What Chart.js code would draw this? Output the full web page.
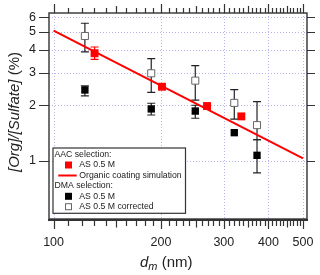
<!DOCTYPE html>
<html><head><meta charset="utf-8">
<script src="https://cdn.jsdelivr.net/npm/chart.js@4/dist/chart.umd.min.js"></script>
<style>html,body{margin:0;padding:0;background:#fff}#wrap{width:320px;height:275px;position:relative}</style>
</head><body><div id="wrap"><canvas id="c"></canvas></div>
<script>
// ---- data ----
const xTicks = [100, 200, 300, 400, 500];
const yTicks = [1, 2, 3, 4, 5, 6];
const aacD  = [130.3, 201.3, 269.2, 335.8];
const aacR  = [3.83, 2.52, 1.98, 1.74];
const aacLo = [3.55, null, null, null];
const aacHi = [4.14, null, null, null];
const simD  = [100, 500];
const simR  = [5.08, 1.03];
const dmaD  = [122.4, 187.8, 249.5, 320.9, 371.6];
const dmaR  = [2.42, 1.91, 1.86, 1.42, 1.07];
const dmaLo = [2.25, 1.77, 1.70, null, 0.86];
const dmaHi = [2.55, 2.05, 2.00, null, 1.30];
const corR  = [4.75, 2.98, 2.72, 2.06, 1.56];
const corLo = [3.90, 2.35, 2.13, 1.68, 1.30];
const corHi = [5.57, 3.58, 3.28, 2.43, 2.09];

const pts = (xs, ys) => xs.map((x, i) => ({x: x, y: ys[i]}));
const FONT = '"Liberation Sans", Arial, sans-serif';
const INK = '#222';

const errBars = [
  {xs: dmaD, lo: corLo, hi: corHi, color: '#222'},
  {xs: dmaD, lo: dmaLo, hi: dmaHi, color: '#222'},
  {xs: aacD, lo: aacLo, hi: aacHi, color: '#f00'}
];

const deco = {
  id: 'deco',
  beforeDatasetsDraw(chart) {
    const {ctx, chartArea: a, scales: {x, y}} = chart;
    ctx.save();
    // dotted grid
    ctx.strokeStyle = '#b4b4f0';
    ctx.lineWidth = 1;
    ctx.setLineDash([1, 2]);
    xTicks.forEach(v => {
      const px = Math.round(x.getPixelForValue(v)) + 0.5;
      ctx.beginPath(); ctx.moveTo(px, a.top); ctx.lineTo(px, a.bottom); ctx.stroke();
    });
    yTicks.forEach(v => {
      const py = Math.round(y.getPixelForValue(v)) + 0.5;
      ctx.beginPath(); ctx.moveTo(a.left, py); ctx.lineTo(a.right, py); ctx.stroke();
    });
    ctx.setLineDash([]);
    // error bars
    errBars.forEach(e => {
      ctx.strokeStyle = e.color;
      ctx.lineWidth = 1.2;
      e.xs.forEach((xv, i) => {
        if (e.lo[i] == null) return;
        const px = x.getPixelForValue(xv);
        const p1 = y.getPixelForValue(e.hi[i]);
        const p2 = y.getPixelForValue(e.lo[i]);
        ctx.beginPath();
        ctx.moveTo(px, p1); ctx.lineTo(px, p2);
        ctx.moveTo(px - 4, p1); ctx.lineTo(px + 4, p1);
        ctx.moveTo(px - 4, p2); ctx.lineTo(px + 4, p2);
        ctx.stroke();
      });
    });
    ctx.restore();
  },
  afterDraw(chart) {
    const {ctx, chartArea: a, scales: {x, y}} = chart;
    ctx.save();
    // frame
    ctx.strokeStyle = '#333';
    ctx.lineWidth = 1.4;
    ctx.strokeRect(a.left, a.top, a.right - a.left, a.bottom - a.top);
    ctx.lineWidth = 2;
    ctx.beginPath(); ctx.moveTo(a.left - 1, a.bottom + 1); ctx.lineTo(a.right + 1, a.bottom + 1); ctx.stroke();
    // x ticks (top and bottom)
    ctx.lineWidth = 1.2;
    const minor = [];
    for (let d = 100; d <= 500; d += 10) minor.push(d);
    minor.forEach(v => {
      const px = Math.round(x.getPixelForValue(v)) + 0.5;
      const major = xTicks.includes(v);
      const mid = (v === 150 || v === 250 || v === 350 || v === 450);
      const L = major ? 9 : (mid ? 7 : 5);
      ctx.beginPath();
      ctx.moveTo(px, a.top); ctx.lineTo(px, a.top - L);
      ctx.moveTo(px, a.bottom + 2); ctx.lineTo(px, a.bottom + 2 + (major ? 8 : (mid ? 6.5 : 5)));
      ctx.stroke();
    });
    // y ticks (left and right)
    yTicks.forEach(v => {
      const py = Math.round(y.getPixelForValue(v)) + 0.5;
      ctx.beginPath();
      ctx.moveTo(a.left, py); ctx.lineTo(a.left - 10, py);
      ctx.moveTo(a.right, py); ctx.lineTo(a.right + 8, py);
      ctx.stroke();
    });
    // tick labels
    ctx.fillStyle = INK;
    ctx.font = '12.5px ' + FONT;
    ctx.textAlign = 'right'; ctx.textBaseline = 'middle';
    yTicks.forEach(v => ctx.fillText(String(v), 36, y.getPixelForValue(v)));
    ctx.textAlign = 'center';
    xTicks.forEach(v => ctx.fillText(String(v), x.getPixelForValue(v), 243));
    // y title
    ctx.save();
    ctx.translate(15, 112);
    ctx.rotate(-Math.PI / 2);
    const t1 = '[Org]/[Sulfate]', t2 = ' (%)';
    const fi = 'italic 15px ' + FONT, fn = '15px ' + FONT;
    ctx.font = fi; const w1 = ctx.measureText(t1).width;
    ctx.font = fn; const w2 = ctx.measureText(t2).width;
    ctx.textAlign = 'left';
    let sx = -(w1 + w2) / 2;
    ctx.font = fi; ctx.fillText(t1, sx, 0);
    ctx.font = fn; ctx.fillText(t2, sx + w1, 0);
    ctx.restore();
    // x title
    ctx.textAlign = 'left'; ctx.textBaseline = 'alphabetic';
    let tx = 140;
    ctx.font = 'italic 15px ' + FONT; ctx.fillText('d', tx, 267); tx += ctx.measureText('d').width;
    ctx.font = 'italic 11px ' + FONT; ctx.fillText('m', tx, 270); tx += ctx.measureText('m').width;
    ctx.font = '15px ' + FONT; ctx.fillText(' (nm)', tx, 267);
    // legend
    const lx = 53, ly = 148, lw = 132.5, lh = 65.3;
    ctx.fillStyle = '#fff';
    ctx.fillRect(lx, ly, lw, lh);
    ctx.strokeStyle = '#333'; ctx.lineWidth = 1.2;
    ctx.strokeRect(lx, ly, lw, lh);
    ctx.fillStyle = INK;
    ctx.font = '8.7px ' + FONT;
    ctx.textBaseline = 'middle';
    const rows = [154.5, 165, 175.5, 185.8, 196.3, 206.7];
    ctx.fillText('AAC selection:', 54.5, rows[0]);
    ctx.fillText('AS 0.5 M', 79.3, rows[1]);
    ctx.fillText('Organic coating simulation', 79.3, rows[2]);
    ctx.fillText('DMA selection:', 54.5, rows[3]);
    ctx.fillText('AS 0.5 M', 79.3, rows[4]);
    ctx.fillText('AS 0.5 M corrected', 79.3, rows[5]);
    ctx.fillStyle = '#f00'; ctx.fillRect(65, rows[1] - 3.5, 7, 7);
    ctx.strokeStyle = '#f00'; ctx.lineWidth = 2;
    ctx.beginPath(); ctx.moveTo(58.3, rows[2]); ctx.lineTo(76.7, rows[2]); ctx.stroke();
    ctx.fillStyle = '#000'; ctx.fillRect(65, rows[4] - 3.5, 7, 7);
    ctx.strokeStyle = '#666'; ctx.lineWidth = 1;
    ctx.strokeRect(65.5, rows[5] - 3, 6, 6);
    ctx.restore();
  }
};

new Chart(document.getElementById('c'), {
  type: 'scatter',
  data: {
    datasets: [
      {label: 'AAC AS 0.5 M', data: pts(aacD, aacR), pointStyle: 'rect', pointRadius: 5.6,
       backgroundColor: '#f00', borderColor: '#f00', borderWidth: 0},
      {label: 'DMA AS 0.5 M', data: pts(dmaD, dmaR), pointStyle: 'rect', pointRadius: 5.2,
       backgroundColor: '#000', borderColor: '#000', borderWidth: 0},
      {label: 'DMA AS 0.5 M corrected', data: pts(dmaD, corR), pointStyle: 'rect', pointRadius: 5.0,
       backgroundColor: '#fff', borderColor: '#666', borderWidth: 1},
      {label: 'Organic coating simulation', type: 'line', data: pts(simD, simR), showLine: true,
       borderColor: '#f00', borderWidth: 2, pointRadius: 0, fill: false, tension: 0}
    ]
  },
  options: {
    responsive: true, maintainAspectRatio: false, animation: false,
    devicePixelRatio: 1,
    layout: {padding: {left: 49, right: 13, top: 13, bottom: 56}},
    plugins: {legend: {display: false}, tooltip: {enabled: false}},
    scales: {
      x: {type: 'logarithmic', min: 97.1, max: 513, display: false},
      y: {type: 'logarithmic', min: 0.483, max: 6.33, display: false}
    }
  },
  plugins: [deco]
});
</script>
</body></html>
